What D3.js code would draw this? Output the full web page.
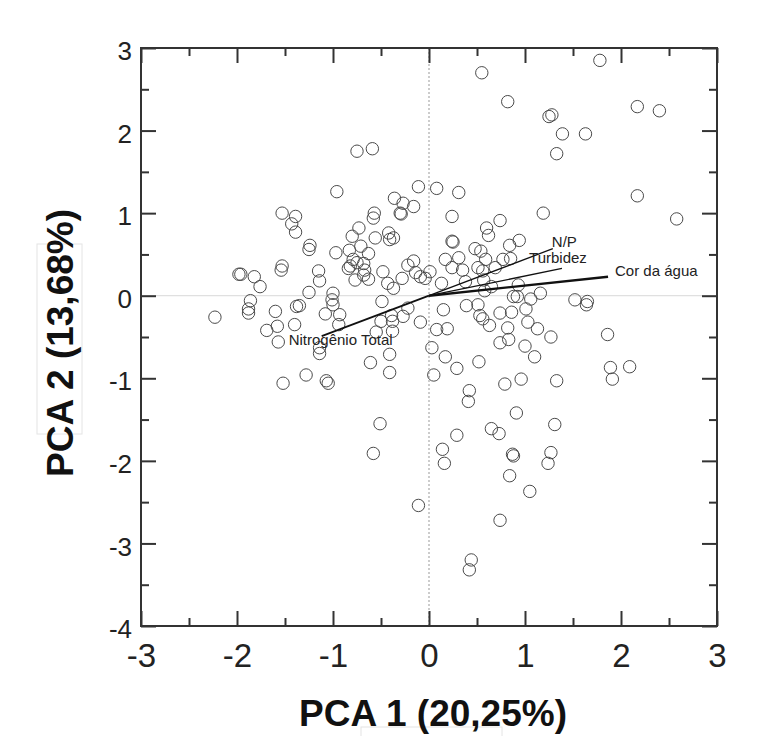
<!DOCTYPE html>
<html>
<head>
<meta charset="utf-8">
<script src="https://cdn.jsdelivr.net/npm/d3@7"></script>
<style>
  body { margin: 0; background: #fff; }
  #wrapper { width: 765px; height: 736px; }
  .tick text { font-family: "Liberation Sans", Arial, sans-serif; fill: #222; }
  .axis-title { font-family: "Liberation Sans", Arial, sans-serif; font-weight: bold; fill: #111; }
  .vector-label { font-family: "Liberation Sans", Arial, sans-serif; font-size: 15px; fill: #222; }
</style>
</head>
<body>
<div id="wrapper"></div>
<script>
// scores of the samples on the first two components
const pc1 = [
  -0.75, -0.59, -0.96, -0.11, 0.08, -0.36, -0.27, -0.16, -0.30, -0.29,
  -1.53, -1.39, -1.43, -1.39, -0.57, -0.58, -0.73, -0.80, -0.56, -0.42,
  -0.37, -0.41, -1.24, -1.25, -0.97, -0.83, -0.71, -0.63, -0.79, -0.84,
  -0.82, -0.75, -0.68, -0.67, -0.68, -0.63, -0.77, -0.48, -0.43, -0.37,
  -0.28, -0.22, -0.16, -0.14, -0.09, -0.04, 0.01, -1.98, -1.96, -1.82,
  -1.76, -1.53, -1.54, -1.15, -1.14, -1.25, -1.00, -0.49, -1.86, -1.35,
  -1.38, 1.78, 0.55, 0.82, 1.25, 1.28, 1.39, 1.63, 1.33, 2.17,
  2.40, 2.17, 2.58, 0.31, 0.24, 0.74, 0.60, 0.62, 1.19, 0.24,
  0.25, 0.48, 0.54, 0.59, 0.84, 0.94, 0.17, 0.31, 0.24, 0.35,
  0.51, 0.56, 0.77, 0.69, 0.85, 0.13, 0.38, 0.57, 0.65, 0.58,
  0.93, 1.16, 0.88, 0.92, 1.06, 1.52, 1.65, 1.64, 0.15, 0.39,
  0.51, 0.53, 0.56, 0.63, 0.74, 0.86, 1.01, 1.03, 1.13, 0.82,
  0.83, 0.74, 1.00, 1.10, 1.27, 0.08, 0.19, 0.03, 0.17, 0.29,
  0.52, 0.05, 0.79, 0.96, 1.33, 1.86, 1.89, 1.91, 2.09, 0.42,
  0.41, 0.91, 1.31, 0.65, 0.73, 0.29, 0.14, 0.16, 0.87, 0.88,
  1.27, 1.24, 0.84, 1.05, 0.74, 0.44, 0.42, -2.23, -1.88, -1.88,
  -1.60, -1.01, -1.00, -1.08, -0.93, -0.94, -0.39, -0.50, -0.38, -0.27,
  -0.22, -0.09, -1.69, -1.58, -1.40, -1.57, -1.14, -1.14, -0.55, -0.38,
  -0.41, -0.61, -0.41, -1.52, -1.28, -1.07, -1.05, -0.51, -0.58, -0.11
];
const pc2 = [
  1.75, 1.78, 1.26, 1.32, 1.30, 1.18, 1.12, 1.08, 1.00, 0.99,
  1.00, 0.96, 0.87, 0.77, 1.00, 0.94, 0.82, 0.72, 0.70, 0.76,
  0.70, 0.68, 0.61, 0.56, 0.52, 0.55, 0.60, 0.51, 0.44, 0.33,
  0.36, 0.40, 0.39, 0.31, 0.25, 0.20, 0.19, 0.29, 0.15, 0.09,
  0.21, 0.37, 0.42, 0.28, 0.23, 0.21, 0.29, 0.26, 0.26, 0.23,
  0.11, 0.36, 0.31, 0.30, 0.18, 0.04, 0.03, -0.07, -0.06, -0.12,
  -0.13, 2.85, 2.70, 2.35, 2.17, 2.19, 1.96, 1.96, 1.72, 2.29,
  2.24, 1.21, 0.93, 1.25, 0.96, 0.91, 0.82, 0.73, 1.00, 0.66,
  0.65, 0.57, 0.54, 0.44, 0.61, 0.67, 0.44, 0.46, 0.34, 0.31,
  0.34, 0.30, 0.44, 0.34, 0.45, 0.15, 0.17, 0.19, 0.11, 0.06,
  0.13, 0.03, -0.01, -0.01, -0.04, -0.05, -0.07, -0.11, -0.17, -0.12,
  -0.11, -0.24, -0.28, -0.36, -0.21, -0.20, -0.16, -0.32, -0.40, -0.39,
  -0.53, -0.57, -0.61, -0.74, -0.50, -0.41, -0.40, -0.63, -0.74, -0.88,
  -0.80, -0.96, -1.07, -1.01, -1.03, -0.47, -0.87, -1.01, -0.86, -1.15,
  -1.28, -1.42, -1.56, -1.61, -1.67, -1.69, -1.86, -2.03, -1.92, -1.94,
  -1.90, -2.03, -2.18, -2.37, -2.72, -3.20, -3.32, -0.26, -0.16, -0.21,
  -0.19, -0.05, -0.11, -0.22, -0.23, -0.35, -0.24, -0.31, -0.31, -0.25,
  -0.15, -0.32, -0.42, -0.37, -0.35, -0.56, -0.70, -0.63, -0.44, -0.43,
  -0.71, -0.81, -0.93, -1.06, -0.96, -1.03, -1.06, -1.55, -1.91, -2.54
];

// variable loadings (arrows)
const loadingNames = ['N/P', 'Turbidez', 'Cor da água', 'Nitrogênio Total'];
const loadingPc1 = [1.29, 1.385, 1.865, -1.118];
const loadingPc2 = [0.57, 0.33, 0.23, -0.49];

// ticks
const xMajorTicks = [-3, -2, -1, 0, 1, 2, 3];
const xMinorTicks = [-2.5, -1.5, -0.5, 0.5, 1.5, 2.5];
const yMajorTicks = [-4, -3, -2, -1, 0, 1, 2, 3];
const yMinorTicks = [-3.5, -2.5, -1.5, -0.5, 0.5, 1.5, 2.5];

const xTitle = 'PCA 1 (20,25%)';
const yTitle = 'PCA 2 (13,68%)';

function drawBiplot() {
  const dataset = pc1.map((d, i) => ({ x: d, y: pc2[i] }));
  const loadings = loadingNames.map((name, i) => ({
    name,
    x: loadingPc1[i],
    y: loadingPc2[i]
  }));

  const xAccessor = d => d.x;
  const yAccessor = d => d.y;
  // plain hyphen for negatives, like the original
  const tickLabel = d => String(d);

  // chart dimensions
  let dimensions = {
    width: 765,
    height: 736,
    margin: {
      top: 48,
      right: 48,
      bottom: 110,
      left: 141
    }
  };
  dimensions.boundedWidth =
    dimensions.width - dimensions.margin.left - dimensions.margin.right;
  dimensions.boundedHeight =
    dimensions.height - dimensions.margin.top - dimensions.margin.bottom;

  // canvas
  const wrapper = d3
    .select('#wrapper')
    .append('svg')
    .attr('width', dimensions.width)
    .attr('height', dimensions.height);

  // faint boxes left around the axis titles in the original figure
  wrapper
    .append('rect')
    .attr('x', 37)
    .attr('y', 244)
    .attr('width', 45)
    .attr('height', 190)
    .attr('fill', 'none')
    .attr('stroke', '#e4e4e4');
  wrapper
    .append('rect')
    .attr('x', 361)
    .attr('y', 727)
    .attr('width', 141)
    .attr('height', 20)
    .attr('fill', 'none')
    .attr('stroke', '#e4e4e4');

  const bounds = wrapper
    .append('g')
    .attr(
      'transform',
      `translate(${dimensions.margin.left}, ${dimensions.margin.top})`
    );

  // scales
  const xScale = d3
    .scaleLinear()
    .domain([-3, 3])
    .range([0, dimensions.boundedWidth]);

  const yScale = d3
    .scaleLinear()
    .domain([-4, 3])
    .range([dimensions.boundedHeight, 0]);

  // zero lines
  bounds
    .append('line')
    .attr('x1', 0)
    .attr('x2', dimensions.boundedWidth)
    .attr('y1', yScale(0))
    .attr('y2', yScale(0))
    .attr('stroke', '#d8d8d8')
    .attr('stroke-width', 1);

  bounds
    .append('line')
    .attr('x1', xScale(0))
    .attr('x2', xScale(0))
    .attr('y1', 0)
    .attr('y2', dimensions.boundedHeight)
    .attr('stroke', '#999')
    .attr('stroke-width', 1)
    .attr('stroke-dasharray', '2,2');

  // points
  bounds
    .append('g')
    .selectAll('circle')
    .data(dataset)
    .join('circle')
    .attr('cx', d => xScale(xAccessor(d)))
    .attr('cy', d => yScale(yAccessor(d)))
    .attr('r', 6.2)
    .attr('fill', 'none')
    .attr('stroke', '#4a4a4a')
    .attr('stroke-width', 1);

  // loading vectors
  const vectorStyle = {
    'N/P': { width: 1.3, anchor: 'start', dx: -1, dy: -2 },
    Turbidez: { width: 1.3, anchor: 'middle', dx: -4, dy: -5 },
    'Cor da água': { width: 2.4, anchor: 'start', dx: 7, dy: -1 },
    'Nitrogênio Total': { width: 1.8, anchor: 'start', dx: -33, dy: 9 }
  };

  const vectors = bounds.append('g');
  vectors
    .selectAll('line')
    .data(loadings)
    .join('line')
    .attr('x1', xScale(0))
    .attr('y1', yScale(0))
    .attr('x2', d => xScale(d.x))
    .attr('y2', d => yScale(d.y))
    .attr('stroke', '#111')
    .attr('stroke-width', d => vectorStyle[d.name].width);

  vectors
    .selectAll('text')
    .data(loadings)
    .join('text')
    .attr('class', 'vector-label')
    .attr('x', d => xScale(d.x) + vectorStyle[d.name].dx)
    .attr('y', d => yScale(d.y) + vectorStyle[d.name].dy)
    .attr('text-anchor', d => vectorStyle[d.name].anchor)
    .text(d => d.name);

  // peripherals: ticks on all four sides, pointing inward
  const styleAxis = g => {
    g.select('.domain').remove();
    g.selectAll('.tick line').attr('stroke', '#333').attr('stroke-width', 2);
  };

  const xAxisGenerator = d3
    .axisBottom(xScale)
    .tickValues(xMajorTicks)
    .tickSizeInner(-15)
    .tickSizeOuter(0)
    .tickPadding(18)
    .tickFormat(tickLabel);

  const xAxis = bounds
    .append('g')
    .attr('transform', `translate(0, ${dimensions.boundedHeight})`)
    .call(xAxisGenerator)
    .call(styleAxis);
  xAxis.selectAll('.tick text').style('font-size', '33px');

  bounds
    .append('g')
    .attr('transform', `translate(0, ${dimensions.boundedHeight})`)
    .call(
      d3.axisBottom(xScale).tickValues(xMinorTicks).tickSizeInner(-8).tickSizeOuter(0).tickFormat('')
    )
    .call(styleAxis);

  bounds
    .append('g')
    .call(
      d3.axisTop(xScale).tickValues(xMajorTicks).tickSizeInner(-15).tickSizeOuter(0).tickFormat('')
    )
    .call(styleAxis);

  bounds
    .append('g')
    .call(
      d3.axisTop(xScale).tickValues(xMinorTicks).tickSizeInner(-8).tickSizeOuter(0).tickFormat('')
    )
    .call(styleAxis);

  const yAxisGenerator = d3
    .axisLeft(yScale)
    .tickValues(yMajorTicks)
    .tickSizeInner(-15)
    .tickSizeOuter(0)
    .tickPadding(9)
    .tickFormat(tickLabel);

  const yAxis = bounds.append('g').call(yAxisGenerator).call(styleAxis);
  yAxis
    .selectAll('.tick text')
    .style('font-size', '26px')
    .attr('dy', '0.45em');

  bounds
    .append('g')
    .call(
      d3.axisLeft(yScale).tickValues(yMinorTicks).tickSizeInner(-8).tickSizeOuter(0).tickFormat('')
    )
    .call(styleAxis);

  bounds
    .append('g')
    .attr('transform', `translate(${dimensions.boundedWidth}, 0)`)
    .call(
      d3.axisRight(yScale).tickValues(yMajorTicks).tickSizeInner(-15).tickSizeOuter(0).tickFormat('')
    )
    .call(styleAxis);

  bounds
    .append('g')
    .attr('transform', `translate(${dimensions.boundedWidth}, 0)`)
    .call(
      d3.axisRight(yScale).tickValues(yMinorTicks).tickSizeInner(-8).tickSizeOuter(0).tickFormat('')
    )
    .call(styleAxis);

  // frame
  bounds
    .append('rect')
    .attr('width', dimensions.boundedWidth)
    .attr('height', dimensions.boundedHeight)
    .attr('fill', 'none')
    .attr('stroke', '#333')
    .attr('stroke-width', 2);

  // axis titles
  wrapper
    .append('text')
    .attr('class', 'axis-title')
    .attr('x', 433)
    .attr('y', 726)
    .attr('text-anchor', 'middle')
    .style('font-size', '37px')
    .text(xTitle);

  wrapper
    .append('text')
    .attr('class', 'axis-title')
    .attr('transform', 'translate(73, 343) rotate(-90)')
    .attr('text-anchor', 'middle')
    .style('font-size', '37px')
    .text(yTitle);
}
drawBiplot();
</script>
</body>
</html>
